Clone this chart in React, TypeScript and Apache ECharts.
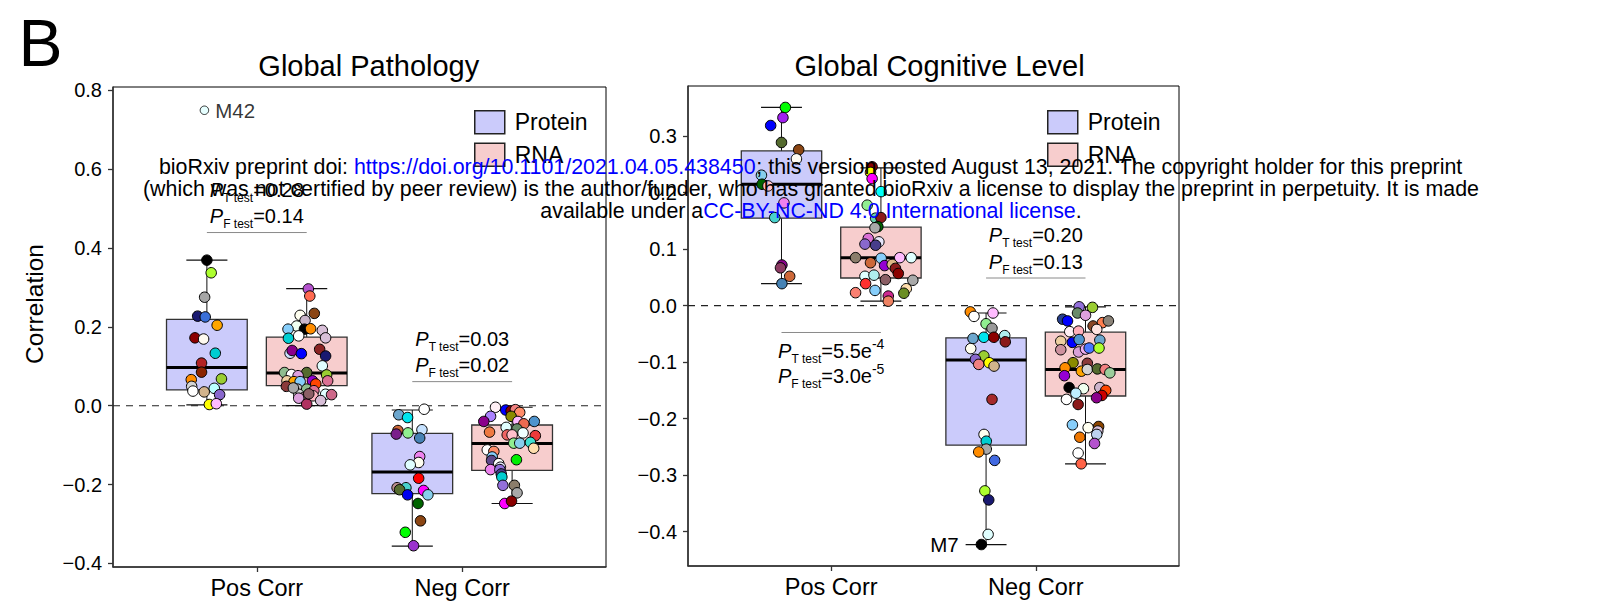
import React, { useEffect, useRef } from "react";
import * as echarts from "echarts";

const FONT = "'Liberation Sans', Arial, Helvetica, sans-serif";

const categories = ["Pos Corr", "Neg Corr"];
const panelTitles = ["Global Pathology", "Global Cognitive Level"];
const groupNames = ["Protein", "RNA"];
const pathYTicks = [-0.4, -0.2, 0, 0.2, 0.4, 0.6, 0.8];
const cogYTicks = [-0.4, -0.3, -0.2, -0.1, 0, 0.1, 0.2, 0.3];
const pathYRange = [-0.409, 0.808];
const cogYRange = [-0.461, 0.389];
const xRange = [0.3, 2.7];

// [lower whisker, Q1, median, Q3, upper whisker] for Pos Corr, Neg Corr
const pathProteinBox = [
  [0.002, 0.04, 0.097, 0.219, 0.369],
  [-0.356, -0.223, -0.168, -0.07, -0.011],
];
const pathRnaBox = [
  [0.0, 0.051, 0.083, 0.174, 0.297],
  [-0.248, -0.164, -0.096, -0.049, -0.004],
];
const cogProteinBox = [
  [0.039, 0.155, 0.215, 0.274, 0.351],
  [-0.423, -0.247, -0.096, -0.057, -0.013],
];
const cogRnaBox = [
  [0.008, 0.049, 0.085, 0.139, 0.244],
  [-0.28, -0.16, -0.113, -0.047, -0.002],
];

// module correlations (points)
const pathProteinPos = [0.369, 0.337, 0.275, 0.227, 0.225, 0.204, 0.172, 0.169, 0.133, 0.108, 0.085, 0.066, 0.068, 0.049, 0.037, 0.035, 0.044, 0.028, 0.003, 0.005];
const pathProteinPosJit = [0, 0.021, -0.011, -0.045, -0.008, 0.05, -0.058, -0.016, 0.041, -0.026, -0.026, -0.076, 0.071, -0.074, -0.068, -0.013, 0.036, 0.062, 0.012, 0.046];
const pathProteinPosCol = ["#000000", "#adff2f", "#a6a6a6", "#191970", "#3a6fd8", "#ffa500", "#8b0000", "#fffaf0", "#00ced1", "#b22222", "#8b2500", "#ff8c00", "#9acd32", "#d3d3d3", "#ffffff", "#d2b48c", "#bbffff", "#8968cd", "#ffff00", "#ffbbff"];

const pathRnaPos = [0.296, 0.278, 0.234, 0.229, 0.216, 0.202, 0.194, 0.194, 0.195, 0.191, 0.171, 0.177, 0.172, 0.133, 0.14, 0.132, 0.143, 0.126, 0.101, 0.084, 0.079, 0.084, 0.078, 0.063, 0.076, 0.061, 0.061, 0.063, 0.055, 0.063, 0.049, 0.042, 0.042, 0.038, 0.029, 0.029, 0.028, 0.021, 0.019, 0.025, 0.013, 0.004, 0.03, 0.045];
const pathRnaPosJit = [0.008, 0.015, 0.037, -0.032, -0.008, -0.049, -0.091, -0.011, 0.019, 0.076, -0.089, -0.039, 0.092, -0.081, -0.071, -0.026, 0.063, 0.092, 0.076, -0.108, -0.074, 0, 0.097, -0.096, -0.042, -0.062, -0.032, 0.028, 0.044, 0.102, -0.099, -0.045, 0, 0.035, -0.039, 0.092, 0.121, -0.013, -0.039, 0.031, 0.068, 0, 0.01, -0.065];
const pathRnaPosCol = ["#b452cd", "#ff6a50", "#8b4513", "#fffff0", "#c9b5c9", "#f0fff0", "#87cefa", "#000000", "#ff8c00", "#d8bfd8", "#00ced1", "#ffffff", "#d8bfd8", "#cae1ff", "#8b008b", "#0000ff", "#8b2323", "#191970", "#e0ffff", "#8fbc8f", "#ffffff", "#556b2f", "#9acd32", "#eecfa1", "#dda0dd", "#ffa500", "#87cefa", "#9400d3", "#ff4500", "#db7093", "#8b3a3a", "#bebebe", "#8fbc8f", "#db7093", "#d3d3d3", "#e0ffff", "#cd6889", "#8b6969", "#dda0dd", "#ffb6c1", "#d8bfd8", "#b03060", "#8b5f65", "#a9a9a9"];

const pathProteinNeg = [-0.009, -0.023, -0.03, -0.063, -0.072, -0.069, -0.061, -0.082, -0.129, -0.144, -0.15, -0.184, -0.208, -0.208, -0.213, -0.215, -0.226, -0.226, -0.248, -0.292, -0.321, -0.355];
const pathProteinNegJit = [0.058, -0.066, -0.023, -0.07, -0.078, -0.021, 0.047, 0.036, 0.036, 0.031, -0.01, 0.031, -0.074, -0.031, -0.062, 0.055, 0.076, -0.023, 0.028, 0.04, -0.034, 0.006];
const pathProteinNegCol = ["#ffffff", "#6ca6cd", "#00e5ee", "#cd6839", "#7a1f8b", "#90ee90", "#c6e2ff", "#4682b4", "#ee82ee", "#fffff0", "#e0ffff", "#ff0000", "#bc8f8f", "#48d1cc", "#556b2f", "#ff00ff", "#87ceeb", "#0000ee", "#006400", "#8b4513", "#00ff00", "#9a32cd"];

const pathRnaNeg = [-0.004, -0.011, -0.013, -0.01, -0.017, -0.027, -0.027, -0.04, -0.04, -0.046, -0.04, -0.055, -0.059, -0.067, -0.074, -0.074, -0.069, -0.076, -0.095, -0.095, -0.093, -0.108, -0.112, -0.116, -0.13, -0.139, -0.137, -0.147, -0.156, -0.162, -0.162, -0.173, -0.181, -0.202, -0.202, -0.221, -0.248, -0.242];
const pathRnaNegJit = [-0.081, -0.031, -0.005, 0.016, 0.037, -0.105, -0.005, -0.138, 0.028, 0.057, 0.108, -0.029, 0.024, -0.11, -0.024, 0, 0.053, 0.113, 0.008, 0.037, 0.089, 0.105, -0.121, -0.089, -0.097, -0.1, 0.021, -0.065, -0.057, -0.105, -0.06, -0.053, -0.05, -0.045, 0.011, 0.024, -0.036, -0.003];
const pathRnaNegCol = ["#fff0f5", "#0000ff", "#8b0000", "#f08080", "#ff8c69", "#ab82ff", "#8b8b00", "#8b008b", "#ffbbff", "#ee6a50", "#4f94cd", "#e0ffff", "#698b69", "#ee7942", "#ee6363", "#ffc0cb", "#f0ffff", "#ee3b3b", "#90ee90", "#87ceeb", "#40e0d0", "#ffdead", "#ffffff", "#ff8c69", "#87cefa", "#5d478b", "#00ee00", "#ffffff", "#e6e6fa", "#ee82ee", "#9370db", "#483d8b", "#00ced1", "#9370db", "#8b7d6b", "#a9a9a9", "#ff00ff", "#8b0000"];

const cogProteinPos = [0.351, 0.333, 0.319, 0.289, 0.276, 0.26, 0.231, 0.215, 0.212, 0.182, 0.156, 0.072, 0.067, 0.052, 0.039];
const cogProteinPosJit = [0.019, 0.007, -0.053, 0, 0.084, 0.073, -0.098, -0.095, -0.066, 0.012, -0.033, 0.002, -0.005, 0.04, 0.002];
const cogProteinPosCol = ["#00ff00", "#a020f0", "#0000ff", "#556b2f", "#8b4513", "#fffaf0", "#87ceeb", "#006400", "#ffc0cb", "#ee82ee", "#48d1cc", "#8b008b", "#8b3a62", "#cd6839", "#4682b4"];

const cogRnaPos = [0.246, 0.236, 0.225, 0.202, 0.178, 0.155, 0.156, 0.14, 0.138, 0.119, 0.113, 0.109, 0.107, 0.085, 0.084, 0.085, 0.085, 0.076, 0.071, 0.073, 0.066, 0.057, 0.052, 0.054, 0.046, 0.045, 0.039, 0.023, 0.027, 0.03, 0.022, 0.017, 0.008];
const cogRnaPosJit = [-0.043, -0.051, -0.043, 0.001, -0.067, -0.026, 0, -0.015, -0.029, -0.062, -0.01, -0.078, -0.026, -0.124, 0.001, 0.092, 0.148, -0.051, 0.018, 0.055, 0.071, 0.085, -0.078, -0.034, 0.022, 0.156, -0.075, -0.124, -0.029, 0.124, 0.112, 0.036, 0.036];
const cogRnaPosCol = ["#8b0000", "#ffff00", "#ff00ff", "#00ffff", "#90ee90", "#66cdaa", "#8b1a1a", "#006400", "#a9a9a9", "#da70d6", "#e6e6fa", "#8968cd", "#483d8b", "#8b7d6b", "#87cefa", "#ffbbff", "#e0ffff", "#cd6839", "#9400d3", "#deb887", "#8b1a1a", "#8b0000", "#e0ffff", "#afeeee", "#8b5f65", "#a9a9a9", "#ff3030", "#fa8072", "#87cefa", "#ffdead", "#6b8e23", "#cd2990", "#ee8262"];

const cogProteinNeg = [-0.011, -0.019, -0.013, -0.032, -0.04, -0.058, -0.056, -0.056, -0.053, -0.064, -0.076, -0.089, -0.095, -0.104, -0.101, -0.107, -0.166, -0.228, -0.24, -0.254, -0.259, -0.274, -0.328, -0.344, -0.405, -0.423];
const cogProteinNegJit = [-0.077, -0.059, 0.034, 0, 0.029, -0.064, -0.011, 0.038, 0.091, 0.094, -0.075, -0.011, -0.052, -0.036, 0.015, 0.039, 0.029, -0.01, 0.001, 0.001, -0.036, 0.042, -0.006, 0.013, 0.01, -0.023];
const cogProteinNegCol = ["#ff8c00", "#ffffff", "#ffbbff", "#90ee90", "#999999", "#6ca6cd", "#00e5ee", "#8b0000", "#afeeee", "#8b1a1a", "#fffff0", "#9acd32", "#8968cd", "#f08080", "#ffff00", "#d2b48c", "#a52a2a", "#fffff0", "#00ced1", "#a9a9a9", "#ff8c00", "#4169e1", "#adff2f", "#191970", "#e0ffff", "#000000"];

const cogRnaNeg = [-0.002, -0.003, -0.013, -0.017, -0.024, -0.027, -0.036, -0.03, -0.027, -0.042, -0.046, -0.045, -0.063, -0.065, -0.06, -0.061, -0.078, -0.082, -0.077, -0.075, -0.075, -0.101, -0.102, -0.11, -0.116, -0.113, -0.112, -0.113, -0.119, -0.124, -0.145, -0.147, -0.145, -0.15, -0.159, -0.163, -0.155, -0.166, -0.175, -0.211, -0.216, -0.214, -0.222, -0.228, -0.233, -0.244, -0.261, -0.28];
const cogRnaNegJit = [-0.031, 0.034, -0.039, 0, -0.112, -0.088, 0.037, 0.083, 0.112, 0.055, -0.077, -0.034, -0.121, -0.064, -0.031, 0.07, -0.121, -0.034, 0, 0.018, 0.066, -0.061, 0.009, -0.1, -0.02, 0.009, 0.058, 0.096, 0.119, -0.103, -0.08, -0.01, 0.07, 0.099, 0.08, 0.054, -0.047, -0.093, -0.036, -0.064, 0.013, 0.064, 0.06, 0.055, -0.028, 0.044, -0.036, -0.021];
const cogRnaNegCol = ["#9370db", "#9acd32", "#698b69", "#dda0dd", "#27408b", "#0000ff", "#8b4726", "#ff7f50", "#8b8378", "#ffe4e1", "#fff0f5", "#ffaeb9", "#eecfa1", "#0000ff", "#4f94cd", "#6ca6cd", "#cd919e", "#d8a0d8", "#eeaeee", "#4876ff", "#adff2f", "#8b8b00", "#8b3a3a", "#ff8c00", "#ffa500", "#d3d3d3", "#556b2f", "#f08080", "#9bcd9b", "#9400d3", "#000000", "#f0fff0", "#cdb5cd", "#ff4500", "#cd0000", "#8b008b", "#bfefff", "#ffffff", "#8b1a1a", "#87cefa", "#fffff0", "#8b4500", "#d8bfd8", "#bcd2ee", "#ee7600", "#b452cd", "#ffffff", "#ff6347"];

// labelled modules
const pathOutlier = 0.749;
const pathOutlierJit = -0.012;
const pathOutlierLabel = "M42";
const cogLabelledIndex = cogProteinNeg.length - 1;
const cogLabel = "M7";

// test p-values and bracket heights
const pathPT = ["0.28", "0.03"];
const pathPF = ["0.14", "0.02"];
const pathBracketY = [0.439, 0.061];
const cogPT = ["5.5e^-4", "0.20"];
const cogPF = ["3.0e^-5", "0.13"];
const cogBracketY = [-0.0475, 0.049];

const DODGE = 0.243;
const BOX_W = 0.393;
const CAP_W = 0.2;
const PROTEIN_FILL = "#cbcbfb";
const RNA_FILL = "#f7cdcd";

const fmtY = (v: number) => {
  const r = Math.round(v * 10) / 10;
  if (Math.abs(r) < 1e-9) return "0.0";
  return r < 0 ? "\u2212" + Math.abs(r).toFixed(1) : r.toFixed(1);
};

function renderBox(params: any, api: any) {
  const x = api.value(0);
  const lo = api.value(1), q1 = api.value(2), med = api.value(3), q3 = api.value(4), hi = api.value(5);
  const cx = api.coord([x, hi])[0];
  const yHi = api.coord([x, hi])[1];
  const yLo = api.coord([x, lo])[1];
  const yQ1 = api.coord([x, q1])[1];
  const yQ3 = api.coord([x, q3])[1];
  const yMed = api.coord([x, med])[1];
  const bw = api.size([BOX_W, 0])[0];
  const cw = api.size([CAP_W, 0])[0];
  const fill = api.visual("color");
  return {
    type: "group",
    children: [
      { type: "line", shape: { x1: cx, y1: yHi, x2: cx, y2: yLo }, style: { stroke: "#111", lineWidth: 1 } },
      { type: "line", shape: { x1: cx - cw / 2, y1: yHi, x2: cx + cw / 2, y2: yHi }, style: { stroke: "#111", lineWidth: 1.2 } },
      { type: "line", shape: { x1: cx - cw / 2, y1: yLo, x2: cx + cw / 2, y2: yLo }, style: { stroke: "#111", lineWidth: 1.2 } },
      { type: "rect", shape: { x: cx - bw / 2, y: yQ3, width: bw, height: yQ1 - yQ3 }, style: { fill, stroke: "#333", lineWidth: 1.3 } },
      { type: "line", shape: { x1: cx - bw / 2, y1: yMed, x2: cx + bw / 2, y2: yMed }, style: { stroke: "#000", lineWidth: 3 } },
    ],
  };
}

function boxSeries(g: number, name: string, stats: number[][], offset: number, fill: string) {
  return {
    type: "custom",
    name,
    xAxisIndex: g,
    yAxisIndex: g,
    z: 2,
    silent: true,
    itemStyle: { color: fill },
    encode: { x: 0, y: [1, 2, 3, 4, 5] },
    data: stats.map((s, i) => [i + 1 + offset, ...s]),
    renderItem: renderBox,
  };
}

function pointSeries(g: number, center: number, vals: number[], jit: number[], cols: string[], labelIdx = -1, labelText = "") {
  return {
    type: "scatter",
    xAxisIndex: g,
    yAxisIndex: g,
    z: 3,
    silent: true,
    symbolSize: 10.5,
    itemStyle: { borderColor: "#000", borderWidth: 1, opacity: 1 },
    data: vals.map((v, i) => {
      const item: any = { value: [center + jit[i], v], itemStyle: { color: cols[i] } };
      if (i === labelIdx) {
        item.label = { show: true, position: "left", distance: 17, formatter: labelText, fontSize: 20.5, fontFamily: FONT, color: "#000" };
      }
      return item;
    }),
  };
}

function bracketSeries(g: number, cat: number, y: number) {
  return {
    type: "line",
    xAxisIndex: g,
    yAxisIndex: g,
    z: 2,
    silent: true,
    symbol: "none",
    data: [[cat - DODGE, y], [cat + DODGE, y]],
    lineStyle: { color: "#8a8a8a", width: 1 },
  };
}

function buildOption() {
  const grids = [
    { left: 113, top: 87, width: 493, height: 480 },
    { left: 688, top: 86, width: 491, height: 480 },
  ];
  const yTicks = [pathYTicks, cogYTicks];
  const yRanges = [pathYRange, cogYRange];
  const series: any[] = [];
  [0, 1].forEach((g) => {
    series.push({
      type: "line", xAxisIndex: g, yAxisIndex: g, z: 1, silent: true, symbol: "none",
      data: [[xRange[0], 0], [xRange[1], 0]],
      lineStyle: { color: "#222", width: 1.1, type: [7, 6] },
    });
  });
  series.push(boxSeries(0, groupNames[0], pathProteinBox, -DODGE, PROTEIN_FILL));
  series.push(boxSeries(0, groupNames[1], pathRnaBox, DODGE, RNA_FILL));
  series.push(boxSeries(1, groupNames[0], cogProteinBox, -DODGE, PROTEIN_FILL));
  series.push(boxSeries(1, groupNames[1], cogRnaBox, DODGE, RNA_FILL));
  series.push(pointSeries(0, 1 - DODGE, pathProteinPos, pathProteinPosJit, pathProteinPosCol));
  series.push(pointSeries(0, 1 + DODGE, pathRnaPos, pathRnaPosJit, pathRnaPosCol));
  series.push(pointSeries(0, 2 - DODGE, pathProteinNeg, pathProteinNegJit, pathProteinNegCol));
  series.push(pointSeries(0, 2 + DODGE, pathRnaNeg, pathRnaNegJit, pathRnaNegCol));
  series.push(pointSeries(1, 1 - DODGE, cogProteinPos, cogProteinPosJit, cogProteinPosCol));
  series.push(pointSeries(1, 1 + DODGE, cogRnaPos, cogRnaPosJit, cogRnaPosCol));
  series.push(pointSeries(1, 2 - DODGE, cogProteinNeg, cogProteinNegJit, cogProteinNegCol, cogLabelledIndex, cogLabel));
  series.push(pointSeries(1, 2 + DODGE, cogRnaNeg, cogRnaNegJit, cogRnaNegCol));
  series.push({
    type: "scatter", xAxisIndex: 0, yAxisIndex: 0, z: 3, silent: true, symbolSize: 8.5,
    itemStyle: { borderColor: "#000", borderWidth: 1 },
    data: [{ value: [1 - DODGE + pathOutlierJit, pathOutlier], itemStyle: { color: "#e0ffff" } }],
    label: { show: true, position: "right", distance: 6, formatter: pathOutlierLabel, fontSize: 20.5, fontFamily: FONT, color: "#000" },
  });
  pathBracketY.forEach((y, i) => series.push(bracketSeries(0, i + 1, y)));
  cogBracketY.forEach((y, i) => series.push(bracketSeries(1, i + 1, y)));

  const legendCommon = {
    orient: "vertical",
    top: 105,
    itemWidth: 30,
    itemHeight: 23,
    itemGap: 8,
    icon: "rect",
    selectedMode: false,
    textStyle: { fontSize: 23, fontFamily: FONT, color: "#000", padding: [0, 0, 0, 5] },
    data: [
      { name: groupNames[0], itemStyle: { color: PROTEIN_FILL, borderColor: "#222", borderWidth: 1.5 } },
      { name: groupNames[1], itemStyle: { color: RNA_FILL, borderColor: "#222", borderWidth: 1.5 } },
    ],
  };

  return {
    animation: false,
    backgroundColor: "#ffffff",
    grid: grids.map((gr) => ({ ...gr, show: true, borderColor: "#000", borderWidth: 1, backgroundColor: "transparent" })),
    legend: [
      { ...legendCommon, left: 469 },
      { ...legendCommon, left: 1042 },
    ],
    xAxis: [0, 1].map((g) => ({
      type: "value",
      gridIndex: g,
      min: xRange[0],
      max: xRange[1],
      splitLine: { show: false },
      axisLine: { show: true, onZero: false, lineStyle: { color: "#333", width: 1.5 } },
      axisTick: { show: true, length: 5, customValues: [1, 2], lineStyle: { color: "#333", width: 1.3 } },
      axisLabel: {
        customValues: [1, 2],
        formatter: (v: number) => categories[Math.round(v) - 1] ?? "",
        fontSize: 23.5,
        fontFamily: FONT,
        color: "#000",
        margin: 21,
        verticalAlign: "middle",
      },
    })),
    yAxis: [0, 1].map((g) => ({
      type: "value",
      gridIndex: g,
      min: yRanges[g][0],
      max: yRanges[g][1],
      splitLine: { show: false },
      axisLine: { show: true, onZero: false, lineStyle: { color: "#333", width: 1.5 } },
      axisTick: { show: true, length: 5, customValues: yTicks[g], lineStyle: { color: "#333", width: 1.3 } },
      axisLabel: { customValues: yTicks[g], formatter: fmtY, fontSize: 20, fontFamily: FONT, color: "#000", margin: 11 },
    })),
    series,
  };
}

const tok = (size: number, extra: any = {}) => ({ fontFamily: FONT, fontSize: size, fill: "#000", ...extra });

const pRich = {
  p: tok(20, { fontStyle: "italic", lineHeight: 28 }),
  s: tok(12, { lineHeight: 12, verticalAlign: "bottom" }),
  n: tok(20, { lineHeight: 28 }),
  e: tok(14, { lineHeight: 20, verticalAlign: "top" }),
};

const pText = (sub: string, val: string) => {
  const [mant, exp] = val.split("^");
  return `{p|P}{s|${sub}}{n|=${mant}}` + (exp ? `{e|${exp}}` : "");
};

const watermark = [
  [["bioRxiv preprint doi: ", "k"], ["https://doi.org/10.1101/2021.04.05.438450", "b"], ["; this version posted August 13, 2021. The copyright holder for this preprint", "k"]],
  [["(which was not certified by peer review) is the author/funder, who has granted bioRxiv a license to display the preprint in perpetuity. It is made", "k"]],
  [["available under a", "k"], ["CC-BY-NC-ND 4.0 International license", "b"], [".", "k"]],
];

function buildGraphic(chart: any) {
  const els: any[] = [];
  els.push({ type: "text", x: 18.5, y: 42.5, z: 50, style: { text: "B", fontFamily: FONT, fontSize: 66, fill: "#000", align: "left", verticalAlign: "middle" } });
  const titleX = [368.8, 939.6];
  panelTitles.forEach((t, i) => {
    els.push({ type: "text", x: titleX[i], y: 66, z: 50, style: { text: t, fontFamily: FONT, fontSize: 29, fill: "#000", align: "center", verticalAlign: "middle" } });
  });
  els.push({ type: "text", x: 34, y: 304, rotation: Math.PI / 2, z: 50, style: { text: "Correlation", fontFamily: FONT, fontSize: 24.5, fill: "#000", align: "center", verticalAlign: "middle" } });

  const annots = [
    { g: 0, ys: pathBracketY, pt: pathPT, pf: pathPF },
    { g: 1, ys: cogBracketY, pt: cogPT, pf: cogPF },
  ];
  annots.forEach(({ g, ys, pt, pf }) => {
    ys.forEach((y, i) => {
      const [cx, cy] = chart.convertToPixel({ gridIndex: g }, [i + 1, y]);
      const below = y < 0;
      const offT = below ? 19 : -43;
      const offF = below ? 44 : -16.5;
      els.push({ type: "text", x: cx, y: cy + offT, z: 60, style: { text: pText("T test", pt[i]), rich: pRich, fontFamily: FONT, fontSize: 20, fill: "#000", align: "center", verticalAlign: "middle" } });
      els.push({ type: "text", x: cx, y: cy + offF, z: 60, style: { text: pText("F test", pf[i]), rich: pRich, fontFamily: FONT, fontSize: 20, fill: "#000", align: "center", verticalAlign: "middle" } });
    });
  });

  const wmY = [166.5, 189, 211];
  const wmRich = { k: tok(21.4), b: tok(21.4, { fill: "#0000ff" }) };
  watermark.forEach((line, i) => {
    const text = line.map(([t, k]) => `{${k}|${t}}`).join("");
    els.push({ type: "text", x: 811, y: wmY[i], z: 100, style: { text, rich: wmRich, fontFamily: FONT, fontSize: 21.4, fill: "#000", align: "center", verticalAlign: "middle" } });
  });
  return els;
}

export default function App() {
  const ref = useRef<HTMLDivElement>(null);
  useEffect(() => {
    const chart = echarts.init(ref.current as HTMLDivElement, null, { renderer: "svg" });
    chart.setOption(buildOption() as any);
    chart.setOption({ graphic: buildGraphic(chart) } as any);
    return () => chart.dispose();
  }, []);
  return (
    <div
      ref={ref}
      style={{ position: "fixed", left: 0, top: 0, width: 1622, height: 610, background: "#fff" }}
    />
  );
}
